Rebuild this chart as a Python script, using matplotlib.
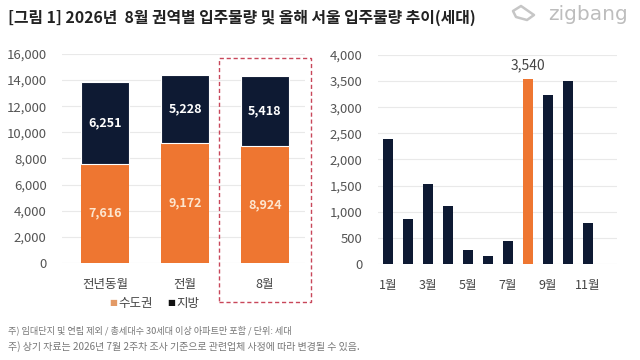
import matplotlib
matplotlib.use("Agg")
import matplotlib.pyplot as plt
from matplotlib.patches import Rectangle, Polygon
import numpy as np

plt.rcParams['font.family'] = ['Noto Sans CJK KR', 'DejaVu Sans']

# Left chart data
categories = ['전년동월', '전월', '8월']
metro = [7616, 9172, 8924]      # 수도권
region = [6251, 5228, 5418]     # 지방

# Right chart data (Seoul monthly)
months = [1, 2, 3, 4, 5, 6, 7, 8, 9, 10, 11]
seoul = [2390, 870, 1530, 1110, 275, 160, 435, 3540, 3240, 3495, 785]
month_ticks = [1, 3, 5, 7, 9, 11]
month_labels = ['1월', '3월', '5월', '7월', '9월', '11월']

ORANGE = '#EE7631'
NAVY = '#0E1A33'
GRID = '#e9e9e9'
TICK = '#555555'

fig = plt.figure(figsize=(6.4, 3.6), dpi=100)
fig.patch.set_facecolor('white')

def fx(px):
    return px / 640

def fy(py):
    return 1 - py / 360

# Title
fig.text(fx(8), fy(18), '[그림 1] 2026년  8월 권역별 입주물량 및 올해 서울 입주물량 추이(세대)',
         fontsize=11.4, fontweight='bold', color='#222222', va='center', ha='left')
# zigbang logo
fig.text(fx(628), fy(14), 'zigbang', fontsize=14.5, color='#bdbdbd', va='center', ha='right',
         fontfamily=['DejaVu Sans'])
icon = Polygon([(fx(513), fy(11)), (fx(521), fy(6)), (fx(534), fy(15)),
                (fx(527), fy(20)), (fx(516), fy(17))], closed=True,
               transform=fig.transFigure, fill=False, edgecolor='#c6c6c6',
               linewidth=1.8, joinstyle='round')
fig.patches.append(icon)

# Left axes
axL = fig.add_axes([fx(62), fy(263), 243 / 640, 209 / 360])
x = np.arange(len(categories))
w = 0.6
axL.bar(x, metro, width=w, color=ORANGE, zorder=3)
axL.bar(x, region, width=w, bottom=metro, color=NAVY, zorder=3,
        edgecolor='white', linewidth=0.8)
for xi, m, r in zip(x, metro, region):
    axL.text(xi, m / 2, f'{m:,}', ha='center', va='center', color='#FDE6CF',
             fontsize=9, fontweight='bold', zorder=4)
    axL.text(xi, m + r / 2, f'{r:,}', ha='center', va='center', color='white',
             fontsize=9, fontweight='bold', zorder=4)
axL.set_ylim(0, 16000)
axL.set_xlim(-0.54, 2.5)
axL.set_yticks(np.arange(0, 16001, 2000))
axL.set_yticklabels([f'{v:,}' for v in range(0, 16001, 2000)])
axL.set_xticks(x)
axL.set_xticklabels(categories)
axL.grid(axis='y', color=GRID, linewidth=0.8, zorder=0)
for s in axL.spines.values():
    s.set_visible(False)
axL.tick_params(axis='y', length=0, labelsize=9.5, colors=TICK, pad=11)
axL.tick_params(axis='x', length=0, labelsize=9, colors='#444444', pad=11)

# Dashed highlight box around 8월
fig.patches.append(Rectangle((fx(219), fy(302)), 92 / 640, 244 / 360,
                             transform=fig.transFigure, fill=False,
                             edgecolor='#C8475A', linestyle=(0, (3, 2)), linewidth=1.0))

# Legend
fig.text(fx(113), fy(303), '■', color='#E39A66', fontsize=6, va='center', ha='center',
         fontfamily=['DejaVu Sans'])
fig.text(fx(118), fy(303), '수도권', color='#444444', fontsize=9, va='center', ha='left')
fig.text(fx(171), fy(303), '■', color='#111111', fontsize=6, va='center', ha='center',
         fontfamily=['DejaVu Sans'])
fig.text(fx(176), fy(303), '지방', color='#444444', fontsize=9, va='center', ha='left')

# Right axes
axR = fig.add_axes([fx(378), fy(264), 239 / 640, 209 / 360])
colors = [ORANGE if m == 8 else NAVY for m in months]
axR.bar(months, seoul, width=0.5, color=colors, zorder=3)
i8 = months.index(8)
axR.text(8, seoul[i8] + 120, f'{seoul[i8]:,}', ha='center', va='bottom',
         color='#444444', fontsize=10)
axR.set_ylim(0, 4000)
axR.set_xlim(0.5, 12.45)
axR.set_yticks(np.arange(0, 4001, 500))
axR.set_yticklabels([f'{v:,}' for v in range(0, 4001, 500)])
axR.set_xticks(month_ticks)
axR.set_xticklabels(month_labels)
axR.grid(axis='y', color=GRID, linewidth=0.8, zorder=0)
for s in axR.spines.values():
    s.set_visible(False)
axR.tick_params(axis='y', length=0, labelsize=9.5, colors=TICK, pad=11)
axR.tick_params(axis='x', length=0, labelsize=9, colors='#444444', pad=11)

# Footnotes
fig.text(fx(8), fy(330), '주) 임대단지 및 연립 제외 / 총세대수 30세대 이상 아파트만 포함 / 단위: 세대',
         fontsize=6.6, color='#777777', va='center', ha='left')
fig.text(fx(8), fy(347), '주) 상기 자료는 2026년 7월 2주차 조사 기준으로 관련업체 사정에 따라 변경될 수 있음.',
         fontsize=7.2, color='#777777', va='center', ha='left')

fig.savefig('out.png', dpi=100, facecolor='white')
